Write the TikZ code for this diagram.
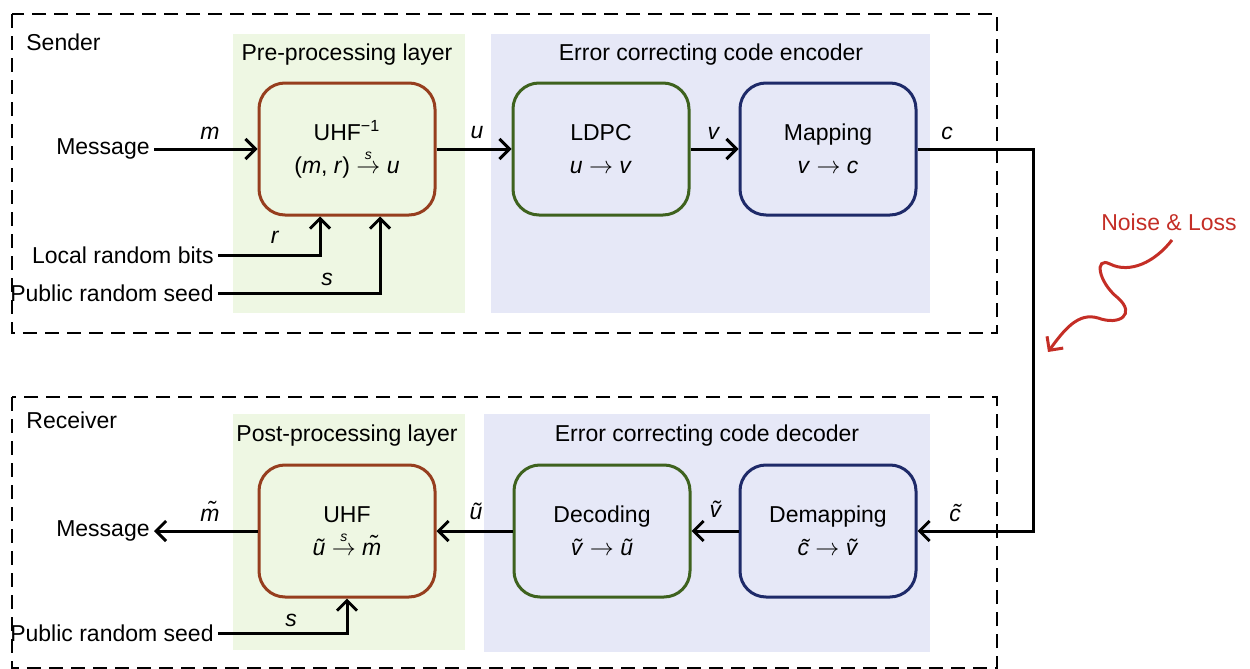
\documentclass[tikz,border=0pt]{standalone}
\usepackage{amsmath}
\usepackage{fontspec}
\setmainfont{Liberation Sans}
\usetikzlibrary{arrows.meta,calc}
\definecolor{brownc}{RGB}{150,62,30}
\definecolor{greenc}{RGB}{62,98,30}
\definecolor{navyc}{RGB}{30,42,105}
\definecolor{greenbg}{RGB}{238,247,227}
\definecolor{bluebg}{RGB}{230,232,247}
\definecolor{redc}{RGB}{196,46,38}
\newcommand{\iv}[1]{\textit{#1}}
\newcommand{\tl}[1]{\textit{\~{#1}}}
\newcommand{\sarrow}{$\mathrel{\mathop{\to}\limits^{\hbox{\fontsize{7}{8}\selectfont\itshape s}}}$}
\begin{document}
\begin{tikzpicture}[x=0.5pt,y=-0.5pt,
  font=\fontsize{11.5}{13.5}\selectfont,
  procbox/.style={rounded corners=13pt,line width=1.5pt,minimum width=88pt,minimum height=66pt,align=center,inner sep=2pt},
  region/.style={dashed,line width=1pt,dash pattern=on 7pt off 4pt},
  arr/.style={line width=1.5pt,-{Straight Barb[length=5pt,width=10pt,line width=1.5pt]}},
  lbl/.style={inner sep=2pt},
  sym/.style={inner sep=0pt}]
\useasboundingbox (0,0) rectangle (1250,669);
% dashed outer regions
\draw[region] (12,14) rectangle (997,333);
\draw[region] (12,397) rectangle (997,668);
% backgrounds
\fill[greenbg] (233,34) rectangle (465,313);
\fill[bluebg] (491,34) rectangle (930,313);
\fill[greenbg] (233,414) rectangle (465,650);
\fill[bluebg] (484,414) rectangle (930,652);
% titles
\node[lbl,anchor=west] (sender) at (22,42) {Sender};
\node[lbl,anchor=west] (receiver) at (22,420) {Receiver};
\node[lbl] (pre) at (347,55) {Pre-processing layer};
\node[lbl] (enc) at (711,55) {Error correcting code encoder};
\node[lbl] (post) at (347,436) {Post-processing layer};
\node[lbl] (dec) at (707,436) {Error correcting code decoder};
% sender boxes
\node[procbox,draw=brownc] (uhfinv) at (347,149) {UHF\textsuperscript{−1}\\[3pt](\iv{m}, \iv{r}) \sarrow{} \iv{u}};
\node[procbox,draw=greenc] (ldpc) at (601,149) {LDPC\\[3pt]\iv{u} $\to$ \iv{v}};
\node[procbox,draw=navyc] (map) at (828,149) {Mapping\\[3pt]\iv{v} $\to$ \iv{c}};
% receiver boxes
\node[procbox,draw=brownc] (uhf) at (347,531) {UHF\\[3pt]\tl{u} \sarrow{} \tl{m}};
\node[procbox,draw=greenc] (decoding) at (602,531) {Decoding\\[3pt]\tl{v} $\to$ \tl{u}};
\node[procbox,draw=navyc] (demap) at (828,531) {Demapping\\[3pt]\tl{c} $\to$ \tl{v}};
% sender inputs
\node[lbl,anchor=east] (msgin) at (154,149) {Message};
\node[lbl,anchor=east] (lrb) at (218,255) {Local random bits};
\node[lbl,anchor=east] (prs) at (218,293) {Public random seed};
\coordinate (rin) at ($(uhfinv.south)+(-27,0)$);
\coordinate (sin) at ($(uhfinv.south)+(33,0)$);
\draw[arr] (msgin.east) -- (uhfinv.west);
\draw[arr] (lrb.east) -| (rin);
\draw[arr] (prs.east) -| (sin);
\draw[arr] (uhfinv.east) -- (ldpc.west);
\draw[arr] (ldpc.east) -- (map.west);
\coordinate (cor1) at (1033,149);
\coordinate (cor2) at (1033,531);
\draw[arr] (map.east) -- (cor1) -- (cor2) -- (demap.east);
\node[sym] (lm) at (210,133) {\iv{m}};
\node[sym] (lr) at (275,237) {\iv{r}};
\node[sym] (ls) at (327,279) {\iv{s}};
\node[sym] (lu) at (477,133) {\iv{u}};
\node[sym] (lv) at (714,133) {\iv{v}};
\node[sym] (lc) at (947,133) {\iv{c}};
% receiver
\node[lbl,anchor=east] (msgout) at (154,531) {Message};
\node[lbl,anchor=east] (prs2) at (218,633) {Public random seed};
\draw[arr] (uhf.west) -- (msgout.east);
\draw[arr] (decoding.west) -- (uhf.east);
\draw[arr] (demap.west) -- (decoding.east);
\draw[arr] (prs2.east) -| (uhf.south);
\node[sym] (lmt) at (210,511) {\tl{m}};
\node[sym] (lut) at (476,511) {\tl{u}};
\node[sym] (lvt) at (716,509) {\tl{v}};
\node[sym] (lct) at (955,513) {\tl{c}};
\node[sym] (ls2) at (291,620) {\iv{s}};
% noise
\node[lbl,text=redc] (noise) at (1169,222) {Noise \& Loss};
\coordinate (nz) at (1048,352);
\draw[redc,line width=1.5pt,-{Straight Barb[length=5pt,width=10pt,line width=1.5pt]}]
  (1172,240) .. controls (1155,262) and (1130,274) .. (1110,264)
  .. controls (1094,256) and (1098,282) .. (1118,298)
  .. controls (1136,314) and (1120,326) .. (1098,318)
  .. controls (1078,312) and (1064,330) .. (nz);
\end{tikzpicture}
\end{document}
